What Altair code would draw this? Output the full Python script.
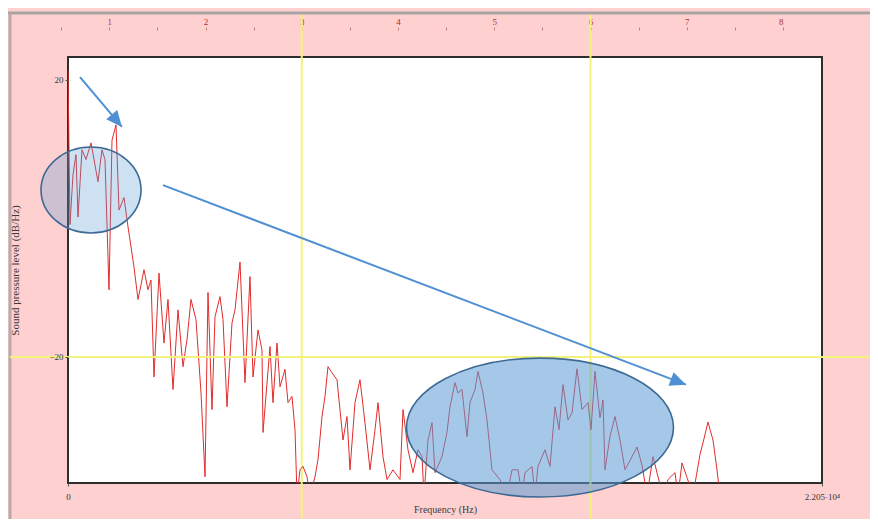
import altair as alt
import pandas as pd

# ---------------- data ----------------
freq_hz = [
    0, 58, 146, 234, 292, 409, 526, 673, 790, 877,
    994, 1082, 1199, 1287, 1404, 1491, 1638, 1755, 1930, 2047,
    2135, 2222, 2339, 2427, 2515, 2661, 2807, 2924, 3071, 3217,
    3363, 3480, 3597, 3743, 3890, 4007, 4094, 4211, 4299, 4445,
    4533, 4650, 4796, 4884, 5030, 5176, 5322, 5410, 5556, 5673,
    5703, 5907, 5995, 6112, 6200, 6346, 6434, 6551, 6638, 6697,
    6785, 6872, 6989, 7077, 7223, 7311, 7428, 7516, 7603, 7720,
    7867, 8042, 8159, 8247, 8393, 8539, 8685, 8832, 8978, 9066,
    9212, 9329, 9504, 9709, 9797, 9943, 10089, 10235, 10352, 10411,
    10528, 10645, 10733, 10937, 11083, 11171, 11317, 11405, 11522, 11668,
    11756, 11902, 11990, 12136, 12253, 12399, 12633, 12838, 12984, 13160,
    13277, 13365, 13569, 13657, 13745, 13949, 14096, 14242, 14359, 14476,
    14622, 14739, 14885, 15031, 15207, 15295, 15412, 15558, 15646, 15704,
    15850, 15996, 16143, 16289, 16494, 16640, 16786, 16932, 17108, 17254,
    17400, 17546, 17751, 17839, 17956, 18102, 18277, 18482, 18570, 18716,
    18862, 18979, 19067, 19125,
]
level_db = [
    21.4, -0.9, 6.3, 9.2, 0.2, 9.9, 8.5, 10.9, 7.7, 5.3,
    9.9, 8.5, -10.3, 11.3, 13.5, 1.2, 3.0, -1.2, -7.0, -11.7,
    -9.6, -7.4, -10.3, -8.9, -22.9, -7.9, -18.0, -11.7, -24.7, -13.2,
    -21.4, -17.5, -11.7, -14.6, -25.2, -37.3, -10.7, -27.6, -14.2, -11.3,
    -14.6, -27.2, -15.1, -13.2, -6.3, -23.7, -8.4, -22.9, -16.1, -19.0,
    -30.9, -18.5, -26.6, -18.0, -24.3, -21.8, -26.6, -25.7, -30.5, -40,
    -36.3, -35.8, -37.3, -40, -37.3, -34.8, -28.6, -25.7, -21.4, -22.3,
    -23.3, -32.0, -28.6, -36.3, -26.6, -23.3, -29.5, -36.3, -30.5, -26.6,
    -34.4, -37.7, -36.3, -37.7, -27.6, -33.4, -36.7, -33.4, -34.4, -40,
    -32.0, -29.5, -36.7, -34.4, -30.9, -27.2, -23.7, -25.2, -24.7, -31.5,
    -26.6, -24.7, -22.1, -25.2, -29.1, -36.3, -37.7, -40, -36.3, -36.3,
    -40, -36.7, -35.8, -40, -35.8, -33.4, -35.8, -27.2, -30.5, -24.0,
    -29.1, -28.1, -21.7, -27.6, -26.6, -30.5, -22.1, -28.8, -26.2, -36.3,
    -31.5, -28.6, -32.0, -36.3, -34.4, -33.0, -35.6, -40, -34.4, -37.3,
    -40, -37.7, -36.7, -40, -35.3, -37.4, -40, -34.1, -32.4, -29.4,
    -32.0, -36.3, -40, -45,
]

y_tick_values = [20, -20]
x_tick_values = [0, 22050]
x_tick_labels = ["0", "2.205·10⁴"]

# page ruler (inches) and its yellow guide lines
ruler_guides_in = [3, 6]
ruler_ticks_in = [0.5, 1, 1.5, 2, 2.5, 3, 3.5, 4, 4.5, 5, 5.5, 6, 6.5, 7, 7.5, 8, 8.5]
guide_level_db = [-20]

# annotations (data coordinates)
ellipse_freq = [673, 13803]
ellipse_db = [4.1, -30.2]
arrow_start_freq = [351, 2778]
arrow_start_db = [20.4, 4.8]
arrow_end_freq = [1579, 18073]
arrow_end_db = [13.2, -24.0]
arrow_angle = [140, 111]

# ---------------- chart ----------------
FONT = "Liberation Serif"
W, H = 754, 426
XDOM = [0, 22050]
YDOM = [-38.2, 23.3]

spec_df = pd.DataFrame({"f": freq_hz, "db": level_db})
ell_df = pd.DataFrame({"f": ellipse_freq, "db": ellipse_db})
arr_df = pd.DataFrame({"f": arrow_start_freq, "db": arrow_start_db,
                       "f2": arrow_end_freq, "db2": arrow_end_db,
                       "ang": arrow_angle})
ruler_df = pd.DataFrame({"inch": ruler_guides_in})
hguide_df = pd.DataFrame({"db": guide_level_db})

xs = alt.Scale(domain=XDOM, nice=False, zero=False)
ys = alt.Scale(domain=YDOM, nice=False, zero=False)

y_axis = alt.Axis(values=y_tick_values, title="Sound pressure level (dB/Hz)",
                  titleFont=FONT, titleFontSize=11, titleFontWeight="normal",
                  titleColor="#3A3A3A", titlePadding=28,
                  labelFont=FONT, labelFontSize=9, labelColor="#333333",
                  labelPadding=2, tickSize=3, tickColor="#555555",
                  domain=False, grid=False, zindex=2)

label_expr = "datum.value == 0 ? '%s' : '%s'" % (x_tick_labels[0], x_tick_labels[1])
x_axis = alt.Axis(values=x_tick_values, labelExpr=label_expr,
                  title="Frequency (Hz)", titleFont=FONT, titleFontSize=10,
                  titleFontWeight="normal", titleColor="#3A3A3A", titlePadding=3,
                  labelFont=FONT, labelFontSize=9, labelColor="#333333",
                  labelFlush=False, labelPadding=6, tickSize=3,
                  tickColor="#555555", domain=False, grid=False)

ruler_layer = alt.Chart(ruler_df).mark_rule(color="#F3F37C", strokeWidth=2).encode(
    x=alt.X("inch:Q",
            scale=alt.Scale(domain=[0, 8], range=[-55, 715], nice=False, zero=False),
            axis=alt.Axis(orient="top", values=ruler_ticks_in, title=None,
                          labelExpr="datum.value % 1 == 0 ? format(datum.value, 'd') : ''",
                          domain=False, grid=False, offset=27, tickSize=3,
                          tickColor="#C08080", labelColor="#A83030",
                          labelFont=FONT, labelFontSize=9, labelPadding=1)),
    y=alt.value(-43),
    y2=alt.value(470),
)

top_border = alt.Chart(hguide_df).mark_rule(color="#A9A3A3", strokeWidth=3).encode(
    x=alt.value(-60), x2=alt.value(812), y=alt.value(-44))
left_border = alt.Chart(hguide_df).mark_rule(color="#B9A9A9", strokeWidth=3).encode(
    x=alt.value(-58), y=alt.value(-44), y2=alt.value(470))

line = alt.Chart(spec_df).mark_line(color="#E22B2B", strokeWidth=1, clip=True).encode(
    x=alt.X("f:Q", scale=xs, axis=x_axis),
    y=alt.Y("db:Q", scale=ys, axis=y_axis),
    order=alt.Order("f:Q"),
)

hguide = alt.Chart(hguide_df).mark_rule(color="#F3F37C", strokeWidth=2).encode(
    y=alt.Y("db:Q", scale=ys, axis=y_axis),
    x=alt.value(-58), x2=alt.value(812))

ELL1 = ("M-1,0 C-1,-0.475 -0.5523,-0.86 0,-0.86 C0.5523,-0.86 1,-0.475 1,0 "
        "C1,0.475 0.5523,0.86 0,0.86 C-0.5523,0.86 -1,0.475 -1,0 Z")
ELL2 = ("M-1,0 C-1,-0.287 -0.5523,-0.52 0,-0.52 C0.5523,-0.52 1,-0.287 1,0 "
        "C1,0.287 0.5523,0.52 0,0.52 C-0.5523,0.52 -1,0.287 -1,0 Z")

ell1 = alt.Chart(ell_df.iloc[[0]]).mark_point(
    shape=ELL1, size=10000, filled=False, fill="#5B9BD5", fillOpacity=0.3,
    stroke="#3D6A94", strokeWidth=1.6, opacity=1).encode(
    x=alt.X("f:Q", scale=xs, axis=x_axis), y=alt.Y("db:Q", scale=ys, axis=y_axis))
ell2 = alt.Chart(ell_df.iloc[[1]]).mark_point(
    shape=ELL2, size=71289, filled=False, fill="#5B9BD5", fillOpacity=0.55,
    stroke="#3D6A94", strokeWidth=1.6, opacity=1).encode(
    x=alt.X("f:Q", scale=xs, axis=x_axis), y=alt.Y("db:Q", scale=ys, axis=y_axis))

arrows = alt.Chart(arr_df).mark_rule(color="#4F8FD3", strokeWidth=2).encode(
    x=alt.X("f:Q", scale=xs, axis=x_axis), y=alt.Y("db:Q", scale=ys, axis=y_axis),
    x2="f2:Q", y2="db2:Q")
HEAD = "M0,0 L0.9,2 L-0.9,2 Z"
heads = alt.Chart(arr_df).mark_point(
    shape=HEAD, size=256, filled=True, color="#4F8FD3", opacity=1).encode(
    x=alt.X("f2:Q", scale=xs, axis=x_axis), y=alt.Y("db2:Q", scale=ys, axis=y_axis),
    angle=alt.Angle("ang:Q", scale=None))

inner = alt.layer(line, top_border, left_border, hguide, ell1, ell2, arrows, heads)

chart = alt.layer(ruler_layer, inner).resolve_scale(x="independent").properties(
    width=W, height=H,
    autosize=alt.AutoSizeParams(type="none"),
    padding={"left": 60, "top": 49, "right": 48, "bottom": 36},
).configure(background="#FFD0D0").configure_view(
    fill="white", stroke="#2E2E2E", strokeWidth=2)

chart.save("out.html", embed_options={"renderer": "svg", "actions": False})
